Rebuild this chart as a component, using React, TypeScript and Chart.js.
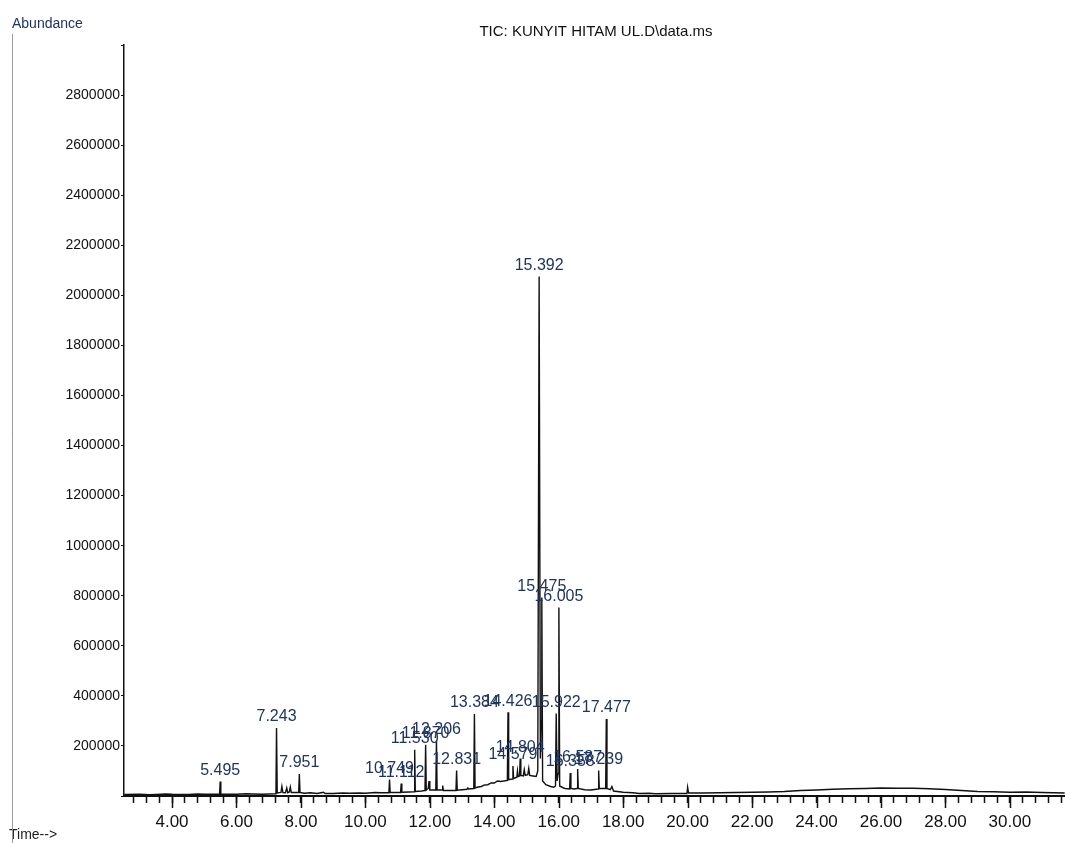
import React, { useEffect, useRef } from "react";
import { Chart, registerables } from "chart.js";

Chart.register(...registerables);

// Retention times (min) of the labelled peaks, their apex abundances and labels
const peakTimes = [5.495, 7.243, 7.951, 10.749, 11.112, 11.53, 11.87, 12.206, 12.831, 13.384, 14.426, 14.579, 14.804, 15.392, 15.475, 15.922, 16.005, 16.358, 16.587, 17.239, 17.477];
const peakHeights = [58000, 272000, 88000, 66000, 50000, 185000, 205000, 222000, 102000, 328000, 335000, 120000, 150000, 2075000, 793000, 330000, 753000, 92000, 108000, 102000, 308000];
const peakLabels = ["5.495", "7.243", "7.951", "10.749", "11.112", "11.530", "11.870", "12.206", "12.831", "13.384", "14.426", "14.579", "14.804", "15.392", "15.475", "15.922", "16.005", "16.358", "16.587", "17.239", "17.477"];

// TIC trace: [time (min), abundance]
const tracePoints: [number, number][] = [
  [2.52, 6000], [3.0, 7000], [3.3, 5000], [3.5, 6000], [3.8, 8000], [4.0, 7000], [4.5, 6500], [4.8, 8000], [5.0, 7000],
  [5.475, 7000], [5.495, 58000], [5.515, 8000], [6.0, 7000], [6.3, 9000], [6.5, 8000], [6.8, 7000], [7.0, 8000],
  [7.225, 9000], [7.243, 272000], [7.265, 12000], [7.38, 14000], [7.41, 38000], [7.44, 14000],
  [7.52, 13000], [7.56, 32000], [7.59, 13000], [7.64, 16000], [7.67, 36000], [7.7, 14000],
  [7.93, 14000], [7.951, 88000], [7.972, 14000], [8.1, 11000], [8.3, 13000], [8.5, 10000], [8.7, 15000],
  [8.75, 10000], [9.0, 10000], [9.3, 12000], [9.5, 11000], [9.8, 12000], [10.0, 11000], [10.3, 14000], [10.5, 13000],
  [10.73, 13000], [10.749, 66000], [10.77, 14000], [11.092, 14000], [11.112, 50000], [11.132, 15000],
  [11.35, 16000], [11.51, 17000], [11.53, 185000], [11.55, 18000], [11.75, 20000],
  [11.85, 22000], [11.87, 205000], [11.89, 24000], [11.95, 30000], [11.975, 60000], [12.0, 24000],
  [12.186, 24000], [12.206, 222000], [12.226, 25000], [12.38, 24000], [12.4, 42000], [12.42, 22000],
  [12.6, 22000], [12.811, 22000], [12.831, 102000], [12.851, 23000], [13.0, 25000],
  [13.15, 27000], [13.18, 32000], [13.2, 28000], [13.364, 30000], [13.384, 328000], [13.404, 32000],
  [13.5, 36000], [13.6, 38000], [13.7, 44000], [13.8, 45000], [13.9, 52000], [14.0, 52000], [14.1, 60000], [14.2, 58000], [14.406, 62000], [14.426, 335000],
  [14.446, 65000], [14.56, 68000], [14.579, 120000], [14.6, 70000], [14.7, 75000], [14.72, 100000],
  [14.74, 78000], [14.784, 80000], [14.804, 150000], [14.824, 82000], [14.9, 80000], [14.93, 105000],
  [14.96, 82000], [15.04, 85000], [15.07, 110000], [15.1, 82000], [15.2, 80000], [15.3, 78000],
  [15.35, 100000], [15.392, 2075000], [15.43, 150000], [15.455, 300000], [15.475, 793000], [15.5, 60000],
  [15.6, 45000], [15.75, 38000], [15.85, 35000], [15.9, 40000], [15.922, 330000], [15.95, 60000],
  [15.98, 90000], [16.005, 753000], [16.03, 40000], [16.15, 32000], [16.2, 30000],
  [16.338, 28000], [16.358, 92000], [16.378, 30000], [16.48, 28000], [16.567, 30000], [16.587, 108000],
  [16.607, 30000], [16.8, 25000], [17.0, 24000], [17.219, 28000], [17.239, 102000], [17.259, 30000],
  [17.457, 30000], [17.477, 308000], [17.497, 30000], [17.6, 25000], [17.65, 38000], [17.7, 20000],
  [18.0, 15000], [18.3, 13000], [18.5, 10000], [18.8, 11000], [19.0, 9000], [19.5, 10000], [19.98, 10000], [20.0, 35000],
  [20.03, 12000], [20.5, 12000], [21.0, 13000], [21.5, 14000], [22.0, 15000], [22.5, 16000],
  [23.0, 18000], [23.5, 22000], [24.0, 24000], [24.5, 27000], [25.0, 29000], [25.5, 30000],
  [26.0, 32000], [26.5, 31000], [27.0, 31000], [27.5, 29000], [28.0, 26000], [28.5, 22000],
  [29.0, 18000], [29.5, 17000], [30.0, 15000], [30.5, 16000], [31.0, 14000], [31.7, 12000],
];

// Axis settings
const xMin = 2.51;
const xMax = 31.71;
const xStep = 0.4;
const yMax = 3000000;
const yStep = 200000;
const yLabelMax = 2800000;

const titleText = "TIC: KUNYIT HITAM UL.D\\data.ms";
const yAxisTitle = "Abundance";
const xAxisTitle = "Time-->";

const FONT = "'Liberation Sans', Arial, sans-serif";

const isMajor = (v: number) => {
  const r = Math.round(v);
  return Math.abs(v - r) < 1e-6 && r % 2 === 0 && r >= 4;
};

const decorPlugin = {
  id: "decor",
  afterDatasetsDraw(chart: any) {
    const { ctx, scales } = chart;
    const xs = scales.x;
    const ys = scales.y;
    ctx.save();
    ctx.font = `16px ${FONT}`;
    ctx.fillStyle = "#1d3560";
    ctx.textAlign = "center";
    ctx.textBaseline = "bottom";
    peakTimes.forEach((t, i) => {
      const px = xs.getPixelForValue(t);
      const py = ys.getPixelForValue(peakHeights[i]) - 3;
      ctx.fillText(peakLabels[i], px, py);
    });
    ctx.restore();
  },
  afterDraw(chart: any) {
    const { ctx, scales, chartArea } = chart;
    const xs = scales.x;
    ctx.save();
    ctx.strokeStyle = "#111";
    ctx.lineWidth = 1.5;
    xs.ticks.forEach((tk: any) => {
      if (isMajor(tk.value)) {
        const px = Math.round(xs.getPixelForValue(tk.value)) + 0.5;
        ctx.beginPath();
        ctx.moveTo(px, chartArea.bottom);
        ctx.lineTo(px, chartArea.bottom + 12);
        ctx.stroke();
      }
    });
    ctx.fillStyle = "#111";
    ctx.font = `15px ${FONT}`;
    ctx.textAlign = "center";
    ctx.textBaseline = "middle";
    ctx.fillText(titleText, 596, 32);
    ctx.fillStyle = "#1d3560";
    ctx.font = `14px ${FONT}`;
    ctx.textAlign = "left";
    ctx.fillText(yAxisTitle, 12, 24);
    ctx.fillStyle = "#222";
    ctx.fillText(xAxisTitle, 9, 835);
    ctx.strokeStyle = "#9a9a9a";
    ctx.lineWidth = 1;
    ctx.beginPath();
    ctx.moveTo(12.5, 34);
    ctx.lineTo(12.5, 843);
    ctx.stroke();
    ctx.restore();
  },
};

export default function App() {
  const canvasRef = useRef<HTMLCanvasElement | null>(null);

  useEffect(() => {
    const canvas = canvasRef.current;
    if (!canvas) return;
    const chart = new Chart(canvas, {
      type: "scatter",
      data: {
        datasets: [
          {
            data: tracePoints.map(([t, a]) => ({ x: t, y: a })),
            showLine: true,
            borderColor: "#111",
            borderWidth: 1.4,
            pointRadius: 0,
            tension: 0,
          } as any,
        ],
      },
      options: {
        responsive: false,
        animation: false,
        events: [],
        layout: { padding: { top: 45, right: 0, left: 0, bottom: 0 } },
        plugins: {
          legend: { display: false },
          tooltip: { enabled: false },
          title: { display: false },
        },
        scales: {
          x: {
            type: "linear",
            min: xMin,
            max: xMax,
            afterBuildTicks: (scale: any) => {
              const ticks: { value: number }[] = [];
              const first = Math.ceil(xMin / xStep - 1e-9);
              const last = Math.floor(xMax / xStep + 1e-9);
              for (let k = first; k <= last; k++) {
                ticks.push({ value: Math.round(k * xStep * 100) / 100 });
              }
              scale.ticks = ticks;
            },
            afterFit: (scale: any) => {
              scale.height = 47;
              scale.paddingRight = 0;
              scale.paddingLeft = 0;
            },
            ticks: {
              autoSkip: false,
              maxRotation: 0,
              padding: 9,
              color: "#111",
              font: { family: FONT, size: 17 },
              callback: (v: any) => (isMajor(Number(v)) ? Number(v).toFixed(2) : ""),
            },
            grid: {
              display: true,
              drawOnChartArea: false,
              drawTicks: true,
              tickLength: 7,
              tickColor: "#111",
              tickWidth: 1.5,
            },
            border: { display: true, color: "#111", width: 2 },
          },
          y: {
            type: "linear",
            min: 0,
            max: yMax,
            afterFit: (scale: any) => {
              scale.width = 124;
            },
            ticks: {
              stepSize: yStep,
              autoSkip: false,
              padding: 1,
              color: "#111",
              font: { family: FONT, size: 14 },
              callback: (v: any) => (Number(v) > 0 && Number(v) <= yLabelMax ? String(v) : ""),
            },
            grid: {
              display: true,
              drawOnChartArea: false,
              drawTicks: true,
              tickLength: 3,
              tickColor: "#111",
              tickWidth: 1,
            },
            border: { display: true, color: "#111", width: 1.5 },
          },
        },
      },
      plugins: [decorPlugin],
    });
    return () => chart.destroy();
  }, []);

  return (
    <div style={{ position: "absolute", left: 0, top: 0, width: 1065, height: 843, background: "#fff" }}>
      <canvas ref={canvasRef} width={1065} height={843} style={{ display: "block" }} />
    </div>
  );
}
